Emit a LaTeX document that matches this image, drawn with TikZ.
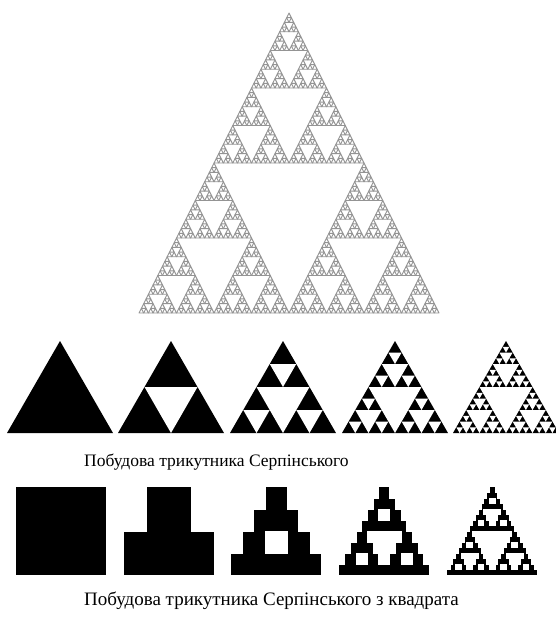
\documentclass[tikz,border=0pt]{standalone}
\usepackage{fontspec}
\setmainfont{Liberation Serif}

% one step of the construction: call #1 on the piece, then split it in three
\newcommand\sierp[6]{%
  #1{#2}{#3}{#4}{#5}{#6}%
  \ifnum#2>0
    \begingroup
      \pgfmathtruncatemacro\sublev{#2-1}%
      \pgfmathsetmacro\subw{#5/2}%
      \pgfmathsetmacro\subh{#6/2}%
      \pgfmathsetmacro\midx{#3+#5/2}%
      \pgfmathsetmacro\topx{#3+#5/4}%
      \pgfmathsetmacro\topy{#4-#6/2}%
      \edef\next{%
        \noexpand\sierp\noexpand#1{\sublev}{#3}{#4}{\subw}{\subh}%
        \noexpand\sierp\noexpand#1{\sublev}{\midx}{#4}{\subw}{\subh}%
        \noexpand\sierp\noexpand#1{\sublev}{\topx}{\topy}{\subw}{\subh}}%
    \expandafter\endgroup\next
  \fi}

% pieces: level, left x, base y, width, height
\newcommand\outlinetri[5]{%
  \ifnum#1=0 \draw[graytri] (#2,#3) -- ++(#4,0) -- ++({-#4/2},{-#5}) -- cycle;\fi}
\newcommand\holetri[5]{%
  \ifnum#1>0 \fill[white] ({#2+#4/2},#3) -- ({#2+#4/4},{#3-#5/2})
    -- ({#2+3*#4/4},{#3-#5/2}) -- cycle;\fi}
\newcommand\holesq[5]{%
  \ifnum#1>0
    \path[holesq] (#2,{#3-#5/2}) rectangle ++({#4/4},{-#5/2});
    \path[holesq] ({#2+3*#4/4},{#3-#5/2}) rectangle ++({#4/4},{-#5/2});
  \fi}

\tikzset{
  graytri/.style={draw=black!42, line width=0.9pt, line join=round},
  holesq/.style={fill=white, draw=white, line width=0.4pt},
  caption/.style={anchor=west, inner sep=0pt}
}

\begin{document}
\begin{tikzpicture}[x=1pt,y=-1pt]
  \useasboundingbox (0,0) rectangle (555,622);

  % big triangle
  \sierp\outlinetri{6}{139}{313}{300}{300}

  % row of triangles
  \foreach \lev/\xl in {0/7,1/118,2/230,3/342,4/453} {
    \fill (\xl,433) -- ++(106,0) -- ++(-53,-92) -- cycle;
    \sierp\holetri{\lev}{\xl}{433}{106}{92}
  }
  \node[caption, font=\fontsize{17.5}{20}\selectfont] (captri) at (84,462)
    {Побудова трикутника Серпінського};

  % row of squares
  \foreach \lev/\xl in {0/16,1/124,2/231,3/339,4/447} {
    \fill (\xl,487) rectangle ++(90,88);
    \sierp\holesq{\lev}{\xl}{575}{90}{88}
  }
  \node[caption, font=\fontsize{19}{22}\selectfont] (capsq) at (84,601)
    {Побудова трикутника Серпінського з квадрата};
\end{tikzpicture}
\end{document}
